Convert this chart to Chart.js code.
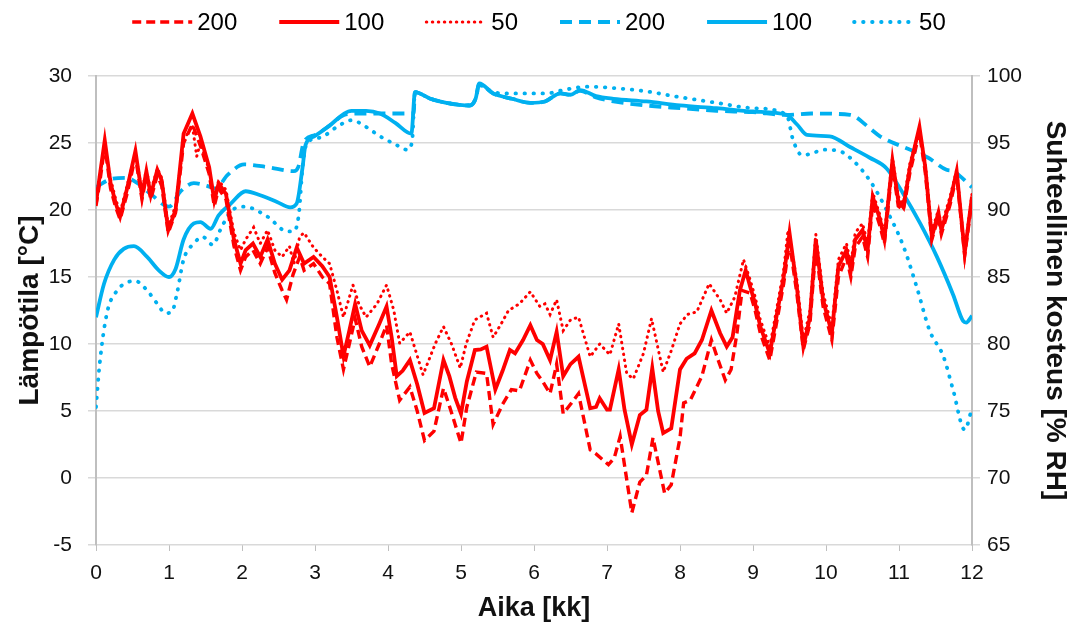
<!DOCTYPE html>
<html>
<head>
<meta charset="utf-8">
<script src="https://cdn.jsdelivr.net/npm/chart.js@4.4.1/dist/chart.umd.min.js"></script>
<style>
  html, body { margin: 0; padding: 0; background: #fff; }
  #wrap { width: 1078px; height: 628px; }
</style>
</head>
<body>
<div id="wrap"><canvas id="chart" width="1078" height="628"></canvas></div>
<script>
// Lämpötila (vasen akseli), kuukausi 0..12
const redX100 = [0,0.05,0.12,0.2,0.27,0.33,0.43,0.54,0.63,0.69,0.75,0.84,0.9,0.99,1.09,1.2,1.32,1.43,1.55,1.62,1.68,1.78,1.89,1.98,2.05,2.15,2.25,2.35,2.45,2.55,2.65,2.75,2.85,2.98,3.1,3.2,3.3,3.39,3.47,3.55,3.64,3.75,3.88,3.98,4.05,4.12,4.2,4.3,4.4,4.5,4.63,4.76,4.84,4.92,5.0,5.08,5.19,5.27,5.35,5.47,5.57,5.67,5.74,5.85,5.95,6.04,6.12,6.22,6.31,6.4,6.5,6.61,6.77,6.85,6.9,7.0,7.04,7.16,7.24,7.34,7.45,7.54,7.62,7.7,7.77,7.88,8.0,8.09,8.2,8.3,8.43,8.55,8.64,8.72,8.82,8.9,8.96,9.03,9.1,9.23,9.32,9.42,9.5,9.6,9.69,9.78,9.86,9.96,10.08,10.17,10.28,10.34,10.4,10.5,10.57,10.64,10.74,10.8,10.91,10.99,11.06,11.15,11.28,11.36,11.45,11.54,11.58,11.7,11.79,11.9,12.0];
const redT100 = [20.5,22.5,25.2,22.0,20.5,19.5,21.7,24.4,21.1,22.9,21.1,23.0,22.2,18.5,20.0,25.7,27.2,25.5,23.2,20.7,22.0,21.2,17.8,16.0,17.0,17.5,16.5,17.8,16.0,14.8,15.5,17.2,16.0,16.5,15.8,15.0,12.0,9.1,11.0,13.0,11.0,9.9,11.5,12.8,10.5,7.6,8.0,8.8,7.0,4.85,5.2,8.8,7.6,6.0,4.8,7.2,9.55,9.6,9.8,6.6,8.0,9.55,9.3,10.3,11.4,10.3,10.0,8.8,10.9,7.6,8.5,9.05,5.2,5.3,5.95,5.1,5.1,8.1,5.1,2.5,4.7,5.1,8.2,5.0,3.35,3.7,8.1,8.9,9.3,10.3,12.5,10.8,9.8,10.5,14.0,15.5,14.3,13.0,11.3,9.3,12.0,15.0,18.3,14.3,9.8,12.0,17.8,13.3,10.8,15.8,17.0,15.5,17.8,18.5,17.0,21.0,19.3,17.8,23.7,20.7,20.2,23.2,26.2,23.2,18.0,19.8,18.5,20.7,22.9,16.8,21.0];

const redX200 = [0,0.05,0.12,0.2,0.27,0.33,0.43,0.54,0.63,0.69,0.75,0.84,0.9,0.99,1.09,1.2,1.32,1.43,1.55,1.62,1.68,1.78,1.89,1.98,2.05,2.15,2.25,2.35,2.45,2.55,2.61,2.7,2.79,2.85,2.98,3.1,3.2,3.3,3.39,3.47,3.55,3.64,3.75,3.88,3.98,4.05,4.16,4.3,4.4,4.5,4.63,4.76,4.84,4.92,5.0,5.08,5.21,5.35,5.44,5.57,5.69,5.8,5.95,6.04,6.12,6.22,6.31,6.4,6.5,6.61,6.77,6.85,7.02,7.1,7.18,7.34,7.45,7.54,7.63,7.79,7.88,8.0,8.05,8.14,8.3,8.43,8.51,8.62,8.7,8.78,8.85,8.96,9.03,9.1,9.23,9.32,9.42,9.5,9.6,9.69,9.78,9.86,9.96,10.08,10.17,10.28,10.34,10.4,10.5,10.57,10.64,10.74,10.8,10.91,10.99,11.06,11.15,11.28,11.36,11.45,11.54,11.58,11.7,11.79,11.9,12.0];
const redT200 = [20.3,22.0,24.8,21.6,20.2,19.3,21.3,24.0,20.8,22.5,20.8,22.6,21.8,18.3,19.8,25.0,26.4,24.8,22.7,20.3,21.6,20.8,17.3,15.5,16.5,17.0,16.0,17.2,15.3,14.0,13.3,15.2,16.5,15.5,16.0,15.0,14.5,10.5,8.1,10.0,11.9,9.8,8.3,10.0,11.4,8.5,5.8,6.8,5.0,2.8,3.5,6.7,5.4,4.0,2.6,5.3,7.9,7.8,4.0,5.5,6.6,6.5,8.8,7.8,7.2,6.3,8.5,4.8,5.5,6.3,2.1,1.8,1.0,1.5,3.1,-2.6,-0.3,0.2,3.0,-1.15,-0.5,3.0,5.6,5.8,7.6,10.3,9.0,7.3,8.1,10.8,14.0,13.8,12.5,10.8,8.8,11.5,14.5,17.6,13.8,9.6,11.5,17.2,12.8,10.3,15.0,16.5,15.0,17.2,18.0,16.5,20.5,18.8,17.5,23.3,20.3,20.0,22.8,25.8,22.8,17.8,19.5,18.2,20.4,22.6,16.6,20.7];

const redX50 = [0,0.05,0.12,0.2,0.27,0.33,0.43,0.54,0.63,0.69,0.75,0.84,0.9,0.99,1.09,1.2,1.32,1.38,1.43,1.55,1.62,1.68,1.78,1.89,1.98,2.05,2.16,2.25,2.35,2.45,2.55,2.65,2.71,2.79,2.85,2.98,3.1,3.2,3.3,3.39,3.52,3.6,3.7,3.85,3.98,4.08,4.16,4.3,4.48,4.65,4.76,4.87,4.99,5.07,5.19,5.35,5.44,5.55,5.65,5.8,5.95,6.08,6.15,6.22,6.31,6.4,6.5,6.61,6.77,6.9,7.04,7.16,7.27,7.36,7.5,7.61,7.77,7.88,8.0,8.1,8.23,8.4,8.55,8.64,8.75,8.87,8.96,9.03,9.1,9.23,9.32,9.42,9.48,9.6,9.69,9.78,9.86,9.96,10.08,10.17,10.28,10.34,10.4,10.5,10.57,10.64,10.74,10.8,10.91,10.99,11.06,11.15,11.28,11.36,11.45,11.54,11.58,11.7,11.79,11.9,12.0];
const redT50 = [20.7,22.6,24.8,22.3,20.8,19.8,21.9,24.2,21.4,23.0,21.4,23.1,22.4,18.8,20.3,25.2,26.3,24.0,25.0,23.0,21.0,22.2,21.5,18.3,17.0,17.8,18.7,17.5,18.5,17.0,16.5,17.3,16.0,18.0,18.3,17.2,16.5,16.0,14.0,12.0,14.4,13.0,12.0,13.0,14.4,12.5,10.05,10.9,7.7,10.05,11.3,10.0,8.2,10.0,11.8,12.3,10.5,11.5,12.5,13.0,13.9,12.8,13.0,12.2,13.3,11.0,11.8,12.0,9.05,10.0,9.2,11.5,7.8,7.4,9.3,11.9,7.9,9.5,11.5,12.2,12.4,14.5,13.3,12.3,13.5,16.3,14.8,13.5,11.8,9.8,12.5,15.5,18.5,14.8,10.3,12.5,18.2,13.8,11.3,16.3,17.5,16.0,18.3,19.0,17.5,21.3,19.6,18.2,23.9,21.0,20.5,23.5,26.0,23.5,18.4,20.0,18.8,21.0,23.0,17.0,21.2];

// Suhteellinen kosteus (oikea akseli)
const blueX100 = [0,0.11,0.25,0.38,0.52,0.7,0.86,1.0,1.09,1.2,1.34,1.43,1.57,1.68,1.85,2.05,2.25,2.48,2.66,2.75,2.83,2.87,2.99,3.2,3.4,3.5,3.7,3.89,4.1,4.32,4.37,4.58,4.8,5.12,5.2,5.25,5.44,5.7,5.95,6.15,6.36,6.5,6.63,6.85,7.09,7.54,8.0,8.5,9.0,9.46,9.6,9.74,10.05,10.33,10.6,10.83,11.06,11.29,11.52,11.74,11.88,11.92,12.0];
const blueRH100 = [82.0,84.5,86.3,87.1,87.3,86.5,85.5,85.0,85.6,87.8,89.0,89.1,88.6,89.6,90.5,91.4,91.1,90.6,90.2,90.5,93.2,94.85,95.5,96.3,97.2,97.4,97.4,97.2,96.5,95.7,98.8,98.3,98.0,97.8,98.3,99.45,98.7,98.3,98.0,98.1,98.7,98.6,98.95,98.5,98.3,98.1,97.8,97.6,97.35,97.1,96.4,95.6,95.5,94.7,93.9,93.1,91.2,89.0,86.5,83.7,81.7,81.6,82.1];

const blueX200 = [0,0.2,0.41,0.57,0.77,1.0,1.16,1.34,1.52,1.64,1.8,2.03,2.35,2.71,2.77,2.85,3.0,3.2,3.4,3.6,4.0,4.35,4.37,4.58,4.8,5.12,5.2,5.25,5.44,5.7,5.95,6.15,6.36,6.5,6.63,6.85,7.09,7.54,8.0,8.5,9.0,9.46,9.8,10.33,10.6,10.74,11.06,11.2,11.4,11.65,11.74,12.0];
const blueRH200 = [91.7,92.3,92.4,92.0,91.1,90.25,91.4,92.0,91.8,91.6,92.6,93.4,93.2,92.9,93.2,95.1,95.6,96.3,97.1,97.2,97.2,97.2,98.8,98.3,98.0,97.8,98.3,99.4,98.7,98.3,98.0,98.1,98.7,98.6,98.9,98.4,98.1,97.8,97.6,97.4,97.3,97.1,97.2,97.1,96.1,95.5,94.7,94.4,93.9,93.0,92.9,91.7];

const blueX50 = [0,0.05,0.15,0.29,0.43,0.54,0.7,0.84,0.95,1.04,1.11,1.2,1.34,1.46,1.6,1.71,1.85,2.03,2.35,2.62,2.71,2.78,2.83,2.89,3.07,3.3,3.5,3.7,3.89,4.1,4.26,4.33,4.37,4.58,4.8,5.12,5.2,5.25,5.44,5.63,6.17,6.4,6.72,7.09,7.54,7.91,8.5,9.0,9.46,9.55,9.67,9.8,9.96,10.18,10.37,10.6,10.83,11.06,11.24,11.42,11.61,11.74,11.9,12.0];
const blueRH50 = [75.3,78.5,82.3,84.0,84.6,84.7,84.0,83.0,82.3,82.4,83.8,86.3,87.5,88.0,87.4,88.6,89.9,90.25,89.5,88.4,88.4,89.75,93.2,95.0,95.4,96.2,96.7,96.2,95.5,94.9,94.5,95.1,98.8,98.3,98.0,97.8,98.3,99.3,98.8,98.7,98.7,98.95,99.2,99.1,98.85,98.5,98.0,97.6,97.1,95.2,94.1,94.2,94.5,94.4,93.7,92.2,90.0,87.3,84.3,81.0,79.05,76.6,73.6,75.2];

const seriesLabels = ['200', '100', '50', '200', '100', '50'];
const tempTicks = [-5, 30, 5];   // min, max, step
const rhTicks = [65, 100, 5];
const monthTicks = [0, 12, 1];

const RED = '#ff0000';
const BLUE = '#00b0f0';

function pts(xs, ys) {
  return xs.map((x, i) => ({ x: x, y: ys[i] }));
}

// legend drawn by hand so that line samples are long like in the original
const lineLegend = {
  id: 'lineLegend',
  afterDraw(chart) {
    const ctx = chart.ctx;
    const sets = chart.data.datasets;
    const lineLen = 60, gap = 5, space = 42;
    ctx.save();
    ctx.font = '24px "Liberation Sans", Arial, sans-serif';
    ctx.textBaseline = 'middle';
    let total = 0;
    sets.forEach((d, i) => {
      total += lineLen + gap + ctx.measureText(d.label).width;
      if (i < sets.length - 1) total += space;
    });
    let x = chart.width / 2 - total / 2;
    const y = 22;
    sets.forEach(d => {
      ctx.beginPath();
      ctx.strokeStyle = d.borderColor;
      ctx.lineWidth = d.borderWidth;
      ctx.lineCap = d.borderCapStyle || 'butt';
      ctx.setLineDash(d.borderDash || []);
      ctx.moveTo(x, y);
      ctx.lineTo(x + lineLen, y);
      ctx.stroke();
      ctx.setLineDash([]);
      x += lineLen + gap;
      ctx.fillStyle = '#000';
      ctx.fillText(d.label, x, y + 1);
      x += ctx.measureText(d.label).width + space;
    });
    ctx.restore();
  }
};

const ctx = document.getElementById('chart').getContext('2d');
new Chart(ctx, {
  type: 'line',
  data: {
    datasets: [
      { label: seriesLabels[0], data: pts(redX200, redT200), yAxisID: 'y', borderColor: RED, borderWidth: 3.4, borderDash: [9, 5], tension: 0 },
      { label: seriesLabels[1], data: pts(redX100, redT100), yAxisID: 'y', borderColor: RED, borderWidth: 3.8, tension: 0 },
      { label: seriesLabels[2], data: pts(redX50, redT50), yAxisID: 'y', borderColor: RED, borderWidth: 3, borderDash: [0.5, 5.5], borderCapStyle: 'round', tension: 0 },
      { label: seriesLabels[3], data: pts(blueX200, blueRH200), yAxisID: 'y1', borderColor: BLUE, borderWidth: 3.8, borderDash: [12, 7], tension: 0.4, cubicInterpolationMode: 'monotone' },
      { label: seriesLabels[4], data: pts(blueX100, blueRH100), yAxisID: 'y1', borderColor: BLUE, borderWidth: 3.8, tension: 0.4, cubicInterpolationMode: 'monotone' },
      { label: seriesLabels[5], data: pts(blueX50, blueRH50), yAxisID: 'y1', borderColor: BLUE, borderWidth: 3.8, borderDash: [0.5, 8.5], borderCapStyle: 'round', tension: 0.4, cubicInterpolationMode: 'monotone' }
    ]
  },
  options: {
    responsive: false,
    devicePixelRatio: 1,
    animation: false,
    layout: { padding: { top: 76, left: 0, right: 0, bottom: 0 } },
    elements: { point: { radius: 0 } },
    plugins: {
      legend: { display: false },
      tooltip: { enabled: false }
    },
    scales: {
      x: {
        type: 'linear',
        min: monthTicks[0], max: monthTicks[1],
        ticks: { stepSize: monthTicks[2], color: '#111', font: { family: '"Liberation Sans", Arial', size: 21 }, padding: 10 },
        grid: { drawOnChartArea: false, tickLength: 6, color: '#bfbfbf' },
        border: { display: false },
        title: { display: true, text: 'Aika [kk]', color: '#111', font: { family: '"Liberation Sans", Arial', size: 27, weight: 'bold' }, padding: { top: 0, bottom: 3 } },
        afterFit(s) { s.height = 83; }
      },
      y: {
        position: 'left',
        min: tempTicks[0], max: tempTicks[1],
        ticks: { stepSize: tempTicks[2], color: '#111', font: { family: '"Liberation Sans", Arial', size: 21 }, padding: 16 },
        grid: { color: '#d9d9d9', lineWidth: 1.5, tickLength: 8 },
        border: { color: '#bfbfbf', width: 2 },
        title: { display: true, text: 'Lämpötila [°C]', color: '#111', font: { family: '"Liberation Sans", Arial', size: 28, weight: 'bold' }, padding: { top: 13, bottom: 0 } },
        afterFit(s) { s.width = 96; }
      },
      y1: {
        position: 'right',
        min: rhTicks[0], max: rhTicks[1],
        ticks: { stepSize: rhTicks[2], color: '#111', font: { family: '"Liberation Sans", Arial', size: 21 }, padding: 7 },
        grid: { drawOnChartArea: false, color: '#d9d9d9', lineWidth: 1.5, tickLength: 8 },
        border: { color: '#bfbfbf', width: 2 },
        title: { display: true, text: 'Suhteellinen kosteus [% RH]', color: '#111', font: { family: '"Liberation Sans", Arial', size: 28, weight: 'bold' }, padding: { top: 6, bottom: 0 } },
        afterFit(s) { s.width = 106; }
      }
    }
  },
  plugins: [lineLegend]
});
</script>
</body>
</html>
